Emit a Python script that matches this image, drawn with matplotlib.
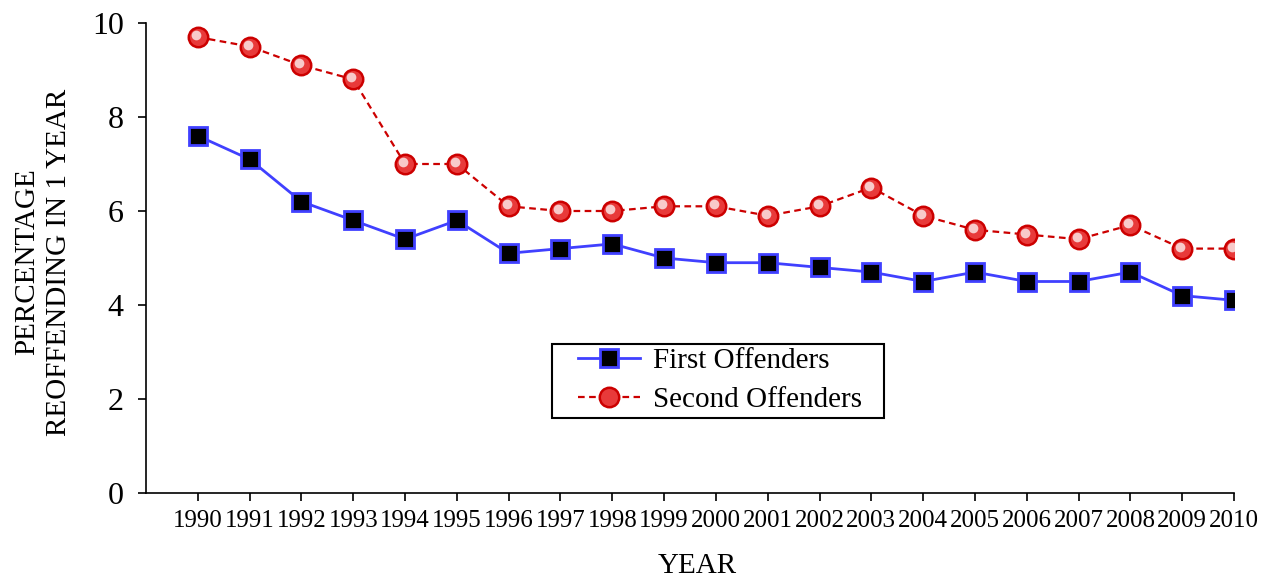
import matplotlib
matplotlib.use("Agg")
import matplotlib.pyplot as plt
import matplotlib.transforms as mtransforms
from matplotlib.patches import Rectangle
import numpy as np

years = [str(y) for y in range(1990, 2011)]
first_offenders = [7.6, 7.1, 6.2, 5.8, 5.4, 5.8, 5.1, 5.2, 5.3, 5.0, 4.9, 4.9, 4.8, 4.7, 4.5, 4.7, 4.5, 4.5, 4.7, 4.2, 4.1]
second_offenders = [9.7, 9.5, 9.1, 8.8, 7.0, 7.0, 6.1, 6.0, 6.0, 6.1, 6.1, 5.9, 6.1, 6.5, 5.9, 5.6, 5.5, 5.4, 5.7, 5.2, 5.2]
y_ticks = [0, 2, 4, 6, 8, 10]

plt.rcParams['font.family'] = ['Liberation Serif', 'DejaVu Serif']

W, H = 1262, 577
fig = plt.figure(figsize=(W / 100, H / 100), dpi=100)
ax = fig.add_axes([146 / W, 1 - 493 / H, (1234 - 146) / W, (493 - 23) / H])

x = np.arange(len(years))
ax.plot(x, first_offenders, color='#4040ff', lw=2, marker='s', markersize=13.5,
        markerfacecolor='black', markeredgecolor='#4040ff', markeredgewidth=2,
        label='First Offenders', zorder=3)
ax.plot(x, second_offenders, color='#cc0000', lw=1.6, ls=(0, (3, 2)), marker='o', markersize=14,
        markerfacecolor='#e83a3a', markeredgecolor='#cc0000', markeredgewidth=1.8,
        label='Second Offenders', zorder=3)
# highlight for glossy look
hl = mtransforms.offset_copy(ax.transData, fig=fig, x=-2, y=2, units='dots')
ax.plot(x, second_offenders, ls='none', marker='o', markersize=7,
        markerfacecolor='#f8caca', markeredgecolor='none', zorder=4, transform=hl)

ax.set_xlim(-1, len(years) - 1)
ax.set_ylim(0, 10)
ax.set_xticks(x)
ax.set_xticklabels(years, fontsize=18)
ax.set_yticks(y_ticks)
ax.set_yticklabels([str(v) for v in y_ticks], fontsize=23)
ax.tick_params(axis='x', direction='out', length=6, width=1.2, pad=6)
ax.tick_params(axis='y', direction='out', length=6, width=1.2, pad=10)

for s in ['top', 'right']:
    ax.spines[s].set_visible(False)
for s in ['left', 'bottom']:
    ax.spines[s].set_linewidth(1.2)

fig.text(27 / W, 1 - 262 / H, 'PERCENTAGE', rotation=90, fontsize=21,
         ha='center', va='center')
fig.text(59 / W, 1 - 262 / H, 'REOFFENDING IN 1 YEAR', rotation=90, fontsize=21,
         ha='center', va='center')
fig.text(697 / W, 4 / H, 'YEAR', fontsize=21, ha='center', va='baseline')

leg = ax.legend(loc='upper left', bbox_to_anchor=(578 / W, 1 - 348 / H),
                bbox_transform=fig.transFigure, fontsize=21,
                frameon=False, borderpad=0, borderaxespad=0,
                handlelength=2.12, labelspacing=0.42, handletextpad=0.45)
fig.patches.append(Rectangle((552 / W, 1 - 418 / H), (884 - 552) / W, (418 - 344) / H,
                             transform=fig.transFigure, fill=False, edgecolor='black',
                             linewidth=1.5, zorder=5))

fig.savefig('out.png', dpi=100)
